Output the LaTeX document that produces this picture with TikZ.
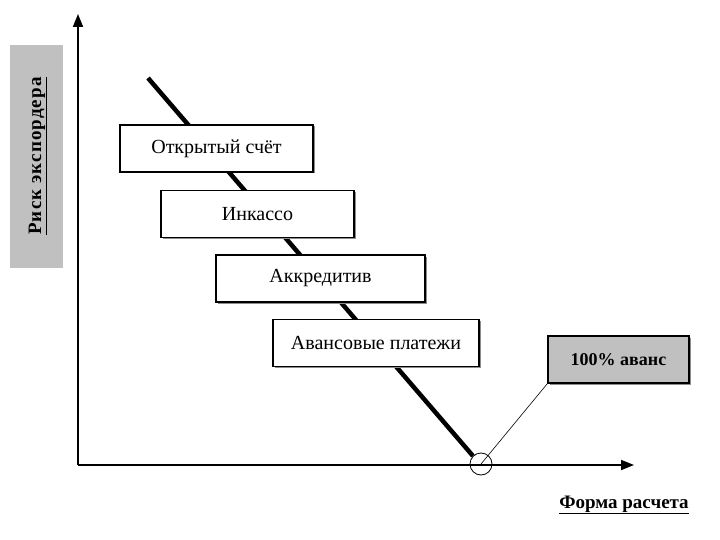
\documentclass[tikz,border=0pt]{standalone}
\usepackage{fontspec}
\setmainfont{Liberation Serif}
\usetikzlibrary{arrows.meta,shadows}
\definecolor{boxgray}{RGB}{192,192,192}
\begin{document}
\begin{tikzpicture}[x=1pt,y=-1pt,
  axis/.style={line width=1.8pt,-{Triangle[length=13pt,width=10pt]}},
  formbox/.style={draw,line width=1.1pt,fill=white,minimum width=#1,minimum height=47pt,
    font=\fontsize{20}{22}\selectfont,inner sep=0pt,
    drop shadow={shadow xshift=1.5pt,shadow yshift=-1.5pt,fill=black!45,opacity=1}},
  graybox/.style={draw,line width=1.6pt,fill=boxgray,minimum width=141pt,minimum height=47pt,
    font=\bfseries\fontsize{18}{20}\selectfont,inner sep=0pt,
    drop shadow={shadow xshift=1.5pt,shadow yshift=-1.5pt,fill=black!45,opacity=1}},
  lbl/.style={font=\bfseries\fontsize{19}{21}\selectfont,inner sep=0pt}]
\useasboundingbox (0,0) rectangle (720,540);
% y-axis label
\fill[boxgray] (10,45) rectangle (63,268);
\node[lbl,rotate=90] (ylab) at (38,156) {\addfontfeatures{LetterSpace=6}\underline{Риск экспордера}};
% axes
\coordinate (o) at (78,465);
\coordinate (ytop) at (78,14);
\coordinate (xend) at (634,465);
\draw[axis] (o) -- (ytop);
\draw[axis] (o) -- (xend);
% diagonal
\node[circle,draw,line width=0.8pt,minimum size=22pt,inner sep=0pt] (c) at (481,464) {};
\coordinate (dstart) at (148,78);
\draw[line width=4.5pt] (dstart) -- (c.135);
% boxes
\node[formbox=193pt] (b1) at (216.5,148.5) {Открытый счёт};
\node[formbox=193pt] (b2) at (257.5,214) {Инкассо};
\node[formbox=209pt] (b3) at (320.5,278.5) {Аккредитив};
\node[formbox=206pt] (b4) at (376,343) {Авансовые платежи};
\node[graybox] (b5) at (618.5,359.5) {100\% аванс};
\draw[line width=0.6pt] (c.center) -- (b5.south west);
% x label
\node[lbl] (xlab) at (624,505) {\underline{Форма расчета}};
\end{tikzpicture}
\end{document}
